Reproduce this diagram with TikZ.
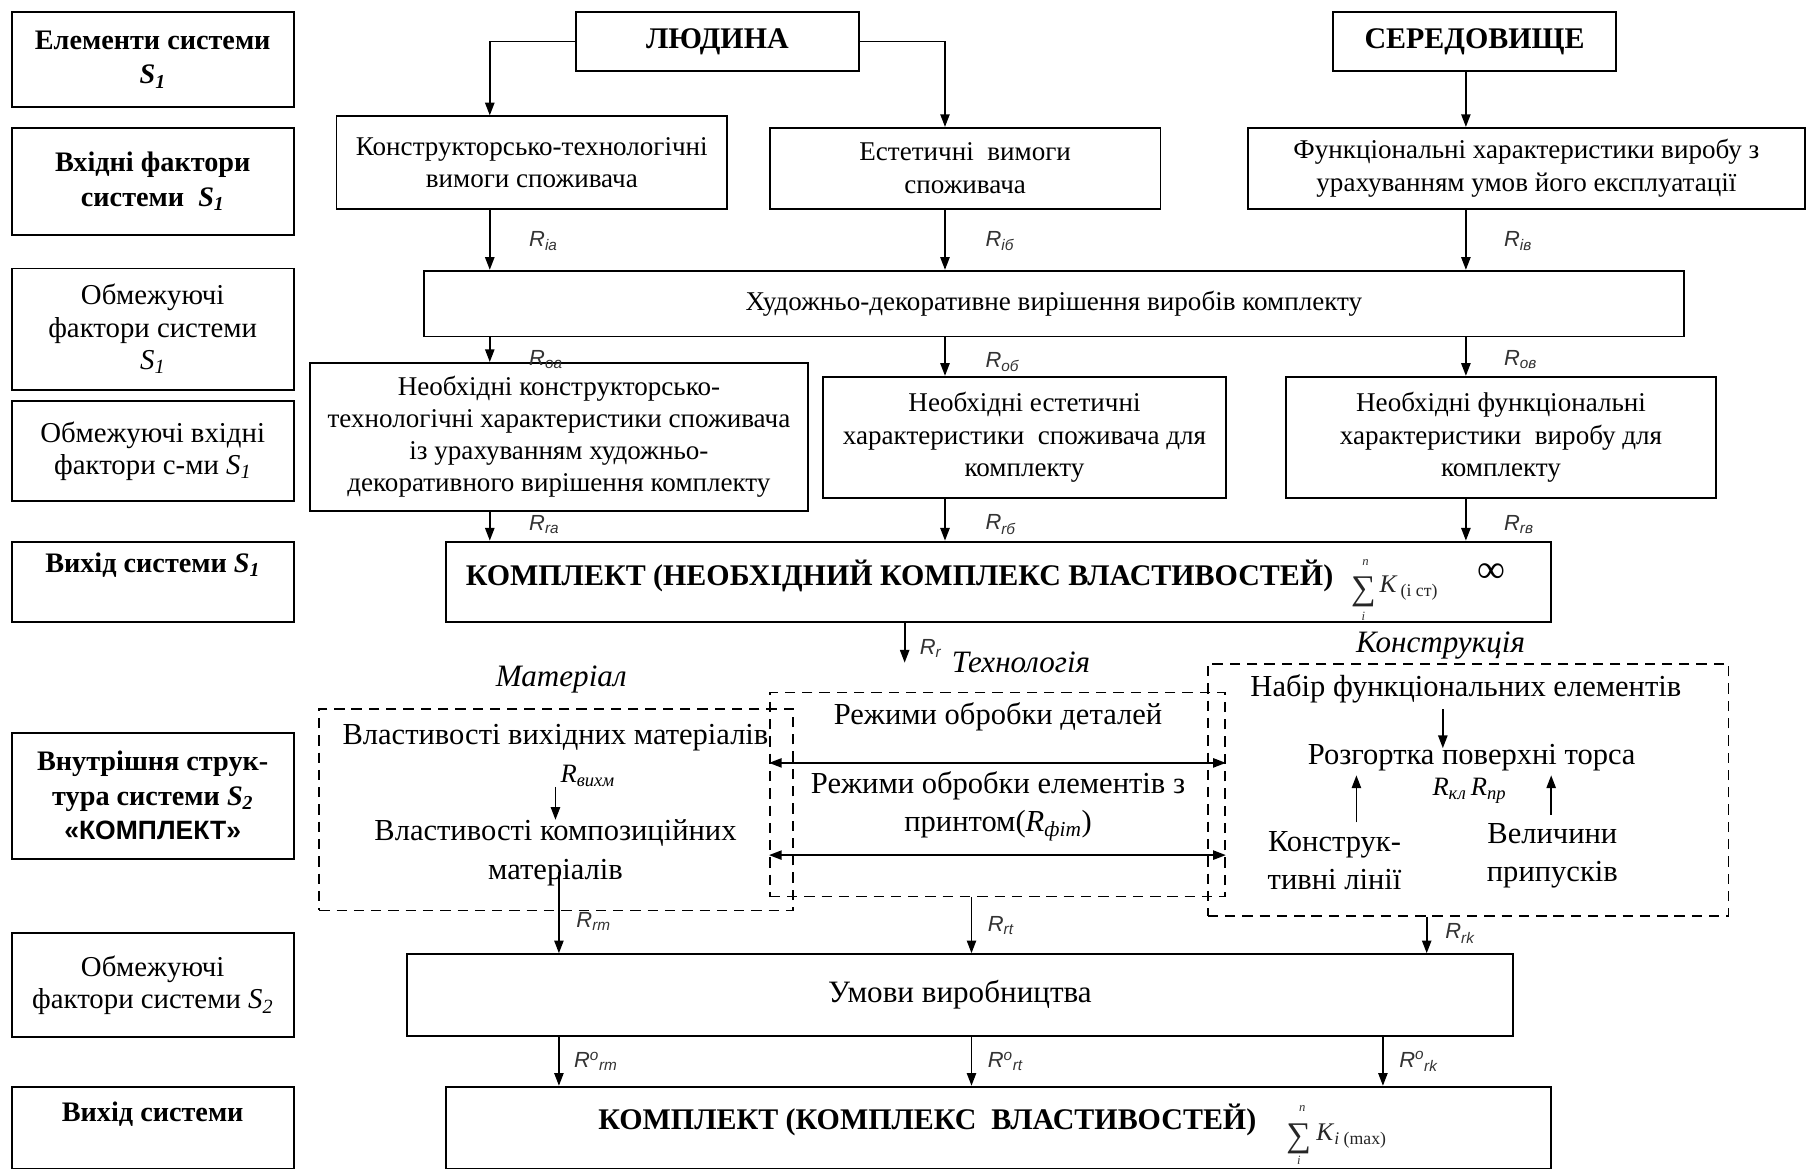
\documentclass[tikz,border=0pt]{standalone}
\usepackage{fontspec}
\setmainfont{Liberation Serif}
\newfontfamily\sansf{Liberation Sans}
\usetikzlibrary{arrows.meta}
\newcommand\fsz[2]{\fontsize{#1}{#2}\selectfont}
\newcommand\fBody{\fsz{23.5}{28}}
\newcommand\fIn{\fsz{26.5}{33}}
\newcommand\fLB{\fsz{24.5}{30}\bfseries}
\newcommand\fLN{\fsz{25}{28}}
\newcommand\fBig{\fsz{26}{28}\bfseries}
\newcommand\fIt{\fsz{27}{28}\itshape}
\newcommand\fR{\fsz{19}{20}\sansf\itshape\color{black!80}}
\newcommand\fRs{\fsz{23}{24}}
\newcommand\fSm{\fsz{11}{12}\itshape}
\newcommand\Ssub[1]{\textit{S}\textsubscript{\textit{#1}}}
\newcommand\Rl[1]{R\textsubscript{#1}}
\newcommand\Rlo[1]{R\textsuperscript{o}\textsubscript{#1}}
\newcommand\Rs[1]{\textit{R}\textsubscript{\textit{#1}}}
\begin{document}
\begin{tikzpicture}[x=1pt,y=-1pt,
  box/.style={draw, line width=1.7pt, inner sep=0pt},
  lbox/.style={box, minimum width=245pt, align=center},
  dbox/.style={draw, line width=1.4pt, dash pattern=on 9pt off 6pt, inner sep=0pt},
  arr/.style={line width=1.5pt, -{Triangle[length=11pt,width=8pt]}},
  dbl/.style={line width=1.5pt, {Triangle[length=11pt,width=8pt]}-{Triangle[length=11pt,width=8pt]}},
  txt/.style={align=center, inner sep=0pt, font=\fBody},
  txt2/.style={align=center, inner sep=0pt, font=\fIn},
  lab/.style={inner sep=0pt, font=\fR, anchor=west},
  sm/.style={inner sep=0pt, font=\fSm, text=black!80},
  sumsym/.style={inner sep=0pt, font=\fsz{30}{30}, text=black!85},
  kk/.style={inner sep=0pt, anchor=west, font=\fsz{22}{24}, text=black!85}]
\useasboundingbox (0,0) rectangle (1568,1014);
\fill[white] (0,0) rectangle (1568,1014);
% left column
\node[lbox, minimum height=83pt, font=\fLB] (l1) at (132.5,51.5) {Елементи системи\\\Ssub{1}};
\node[lbox, minimum height=93pt, font=\fLB] (l2) at (132.5,157.5) {Вхідні фактори\\системи\ \ \Ssub{1}};
\node[lbox, minimum height=105pt, font=\fLN] (l3) at (132.5,285.5) {Обмежуючі\\фактори системи\\\Ssub{1}};
\node[lbox, minimum height=87pt, font=\fLN] (l4) at (132.5,391.5) {Обмежуючі вхідні\\фактори с-ми \Ssub{1}};
\node[lbox, minimum height=70pt] (l5) at (132.5,505) {};
\node[font=\fLB, inner sep=0pt] (l5t) at (132.5,490) {Вихід системи \Ssub{1}};
\node[lbox, minimum height=109pt, font=\fLB] (l6) at (132.5,690.5) {Внутрішня струк-\\тура системи \Ssub{2}\\{\sansf\fsz{23}{30}«КОМПЛЕКТ»}};
\node[lbox, minimum height=90pt, font=\fLN] (l7) at (132.5,855) {Обмежуючі\\фактори системи \Ssub{2}};
\node[lbox, minimum height=71pt] (l8) at (132.5,978.5) {};
\node[font=\fLB, inner sep=0pt] (l8t) at (132.5,967) {Вихід системи};
% top
\node[box, minimum width=245pt, minimum height=52pt, font=\fBig] (lud) at (622.5,36) {ЛЮДИНА};
\node[box, minimum width=245pt, minimum height=52pt, font=\fBig] (ser) at (1279.5,36) {СЕРЕДОВИЩЕ};
\coordinate (cxA) at (425,0);
\coordinate (cxB) at (820,0);
\coordinate (cxC) at (1272,0);
% row 2
\node[box, minimum width=339pt, minimum height=80pt, txt] (kt) at (461.5,141) {Конструкторсько-технологічні\\вимоги споживача};
\node[box, minimum width=339pt, minimum height=70pt, txt] (est) at (837.5,146) {Естетичні\ \ вимоги\\споживача};
\node[box, minimum width=483pt, minimum height=70pt, txt] (fun) at (1324.5,146) {Функціональні характеристики виробу з\\урахуванням умов його експлуатації};
\node[box, minimum width=1093pt, minimum height=57pt, txt] (hud) at (914.5,263.5) {Художньо-декоративне вирішення виробів комплекту};
\node[box, minimum width=432pt, minimum height=128pt, txt] (n1) at (485,379) {Необхідні конструкторсько-\\технологічні характеристики споживача\\із урахуванням художньо-\\декоративного вирішення комплекту};
\node[box, minimum width=350pt, minimum height=105pt, txt] (n2) at (889,379.5) {Необхідні естетичні\\характеристики\ \ споживача для\\комплекту};
\node[box, minimum width=373pt, minimum height=105pt, txt] (n3) at (1302.5,379.5) {Необхідні функціональні\\характеристики\ \ виробу для\\комплекту};
\node[box, minimum width=959pt, minimum height=70pt] (k1) at (866.5,505) {};
\node[font=\fBig, anchor=west, inner sep=0pt] (k1t) at (404,500) {КОМПЛЕКТ (НЕОБХІДНИЙ КОМПЛЕКС ВЛАСТИВОСТЕЙ)};
\node[sumsym] (s1) at (1183,514) {∑};
\node[sm] (s1n) at (1185,488) {n};
\node[sm] (s1i) at (1183,535) {i};
\node[kk] (s1k) at (1197,510) {\textit{K}\textsubscript{\,(i ст)}};
\node[font=\fsz{34}{34}, inner sep=0pt] (inf) at (1294,497) {∞};
% connectors top part
\draw[arr] (lud.west) -| (cxA |- kt.north);
\draw[arr] (lud.east) -| (cxB |- est.north);
\draw[arr] (cxC |- ser.south) -- (cxC |- fun.north);
\draw[arr] (cxA |- kt.south) -- (cxA |- hud.north);
\draw[arr] (cxB |- est.south) -- (cxB |- hud.north);
\draw[arr] (cxC |- fun.south) -- (cxC |- hud.north);
\draw[arr] (cxA |- hud.south) -- (cxA |- n1.north);
\draw[arr] (cxB |- hud.south) -- (cxB |- n2.north);
\draw[arr] (cxC |- hud.south) -- (cxC |- n3.north);
\draw[arr] (cxA |- n1.south) -- (cxA |- k1.north);
\draw[arr] (cxB |- n2.south) -- (cxB |- k1.north);
\draw[arr] (cxC |- n3.south) -- (cxC |- k1.north);
\node[lab] (ria) at (459,209) {\Rl{іа}};
\node[lab] (rib) at (855,209) {\Rl{іб}};
\node[lab] (riv) at (1305,209) {\Rl{ів}};
\node[lab] (roa) at (459,312) {\Rl{оа}};
\node[lab] (rob) at (855,314) {\Rl{об}};
\node[lab] (rov) at (1305,312) {\Rl{ов}};
\node[lab] (rra) at (459,455) {\Rl{rа}};
\node[lab] (rrb) at (855,455) {\Rl{rб}};
\node[lab] (rrv) at (1305,455) {\Rl{rв}};
\coordinate (rr) at (785,575);
\draw[arr] (rr |- k1.south) -- (rr);
\node[lab] (rrl) at (798,563) {\Rl{r}};
% dashed groups
\node[dbox, minimum width=411pt, minimum height=175pt] (mat) at (482.5,702.5) {};
\node[dbox, minimum width=395pt, minimum height=177pt] (tech) at (865.5,689.5) {};
\node[dbox, minimum width=452pt, minimum height=219pt] (kon) at (1274,685.5) {};
\node[font=\fIt, inner sep=0pt] (matl) at (487,590) {Матеріал};
\node[font=\fIt, inner sep=0pt] (tecl) at (886,575) {Технологія};
\node[font=\fIt, inner sep=0pt] (konl) at (1250,560) {Конструкція};
% material
\node[txt2] (m1) at (482,640) {Властивості вихідних матеріалів};
\node[font=\fRs, inner sep=0pt] (mR) at (510,673) {\Rs{вихм}};
\node[txt2] (m2) at (482,740) {Властивості композиційних\\матеріалів};
\draw[arr] (m2.north |- mR.south) -- (m2.north);
% technology
\node[txt2] (t1) at (866,622) {Режими обробки деталей};
\node[txt2] (t2) at (866,700) {Режими обробки елементів з\\принтом(\Rs{фіт})};
\coordinate (ta) at (866,662);
\coordinate (tb) at (866,742);
\draw[dbl] (tech.west |- ta) -- (tech.east |- ta);
\draw[dbl] (tech.west |- tb) -- (tech.east |- tb);
% construction
\node[txt2] (c1) at (1272,598) {Набір функціональних елементів};
\node[txt2] (c2) at (1277,657) {Розгортка поверхні торса};
\node[font=\fRs, inner sep=0pt] (cR) at (1275,686) {\Rs{кл}\,\Rs{пр}};
\node[txt2] (c3) at (1158,747) {Конструк-\\тивні лінії};
\node[txt2] (c4) at (1347,743) {Величини\\припусків};
\coordinate (ck) at (1252,0);
\coordinate (cu1) at (1177,0);
\coordinate (cu2) at (1346,0);
\draw[arr, shorten <=5pt, shorten >=-4pt] (ck |- c1.south) -- (ck |- c2.north);
\draw[arr, shorten <=8pt, shorten >=4pt] (cu1 |- c3.north) -- (cu1 |- c2.south);
\draw[arr, shorten <=8pt, shorten >=4pt] (cu2 |- c4.north) -- (cu2 |- c2.south);
% production conditions
\node[box, minimum width=960pt, minimum height=71pt, txt, font=\fsz{27}{28}] (umovy) at (833,863.5) {Умови виробництва};
\coordinate (cm) at (485,0);
\coordinate (ct) at (843,0);
\coordinate (ckk) at (1238,0);
\coordinate (cb3) at (1200,0);
\draw[arr, shorten <=-12pt] (cm |- m2.south) -- (cm |- umovy.north);
\draw[arr] (ct |- tech.south) -- (ct |- umovy.north);
\draw[arr] (ckk |- kon.south) -- (ckk |- umovy.north);
\node[lab] (rrm) at (500,800) {\Rl{rm}};
\node[lab] (rrt) at (857,803) {\Rl{rt}};
\node[lab] (rrk) at (1254,810) {\Rl{rk}};
% bottom
\node[box, minimum width=959pt, minimum height=71pt] (k2) at (866.5,978.5) {};
\node[font=\fBig, anchor=west, inner sep=0pt] (k2t) at (519,972) {КОМПЛЕКТ (КОМПЛЕКС\ \ ВЛАСТИВОСТЕЙ)};
\node[sumsym] (s2) at (1127,988) {∑};
\node[sm] (s2n) at (1130,962) {n};
\node[sm] (s2i) at (1127,1007) {i};
\node[kk] (s2k) at (1142,986) {\textit{K}\textsubscript{\textit{i}\ (max)}};
\draw[arr] (cm |- umovy.south) -- (cm |- k2.north);
\draw[arr] (ct |- umovy.south) -- (ct |- k2.north);
\draw[arr] (cb3 |- umovy.south) -- (cb3 |- k2.north);
\node[lab] (rom) at (498,921) {\Rlo{rm}};
\node[lab] (rot) at (857,921) {\Rlo{rt}};
\node[lab] (rok) at (1214,921) {\Rlo{rk}};
\end{tikzpicture}
\end{document}
